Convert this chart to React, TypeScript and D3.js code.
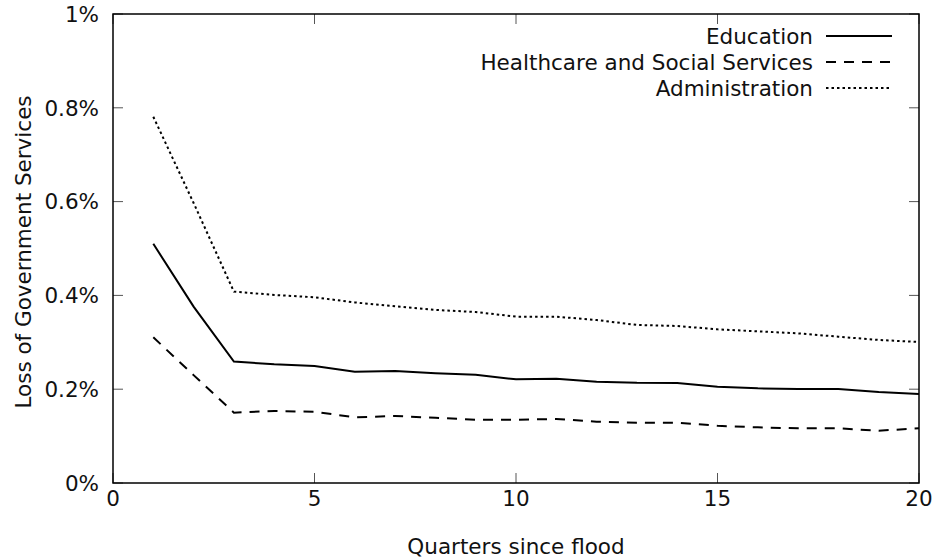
import React from "react";
import * as d3 from "d3";

const quarters = [1, 2, 3, 4, 5, 6, 7, 8, 9, 10, 11, 12, 13, 14, 15, 16, 17, 18, 19, 20];
const education = [0.51, 0.376, 0.259, 0.253, 0.2495, 0.2374, 0.2388, 0.234, 0.231, 0.221, 0.2224, 0.216, 0.2135, 0.213, 0.2053, 0.2018, 0.2004, 0.2004, 0.194, 0.19];
const healthcare = [0.3107, 0.23, 0.15, 0.1535, 0.152, 0.14, 0.1429, 0.139, 0.135, 0.135, 0.1365, 0.1308, 0.1287, 0.1287, 0.122, 0.1187, 0.1165, 0.1165, 0.1115, 0.1166];
const administration = [0.781, 0.597, 0.408, 0.401, 0.396, 0.385, 0.377, 0.369, 0.3646, 0.3547, 0.3547, 0.3475, 0.337, 0.3348, 0.3276, 0.3234, 0.319, 0.312, 0.305, 0.3006];
const seriesNames = ["Education", "Healthcare and Social Services", "Administration"];
const xTicks = [0, 5, 10, 15, 20];
const yTicks = [0, 0.2, 0.4, 0.6, 0.8, 1];
const yTickLabels = ["0%", "0.2%", "0.4%", "0.6%", "0.8%", "1%"];

const W = 937;
const H = 560;
const L = 113;
const R = 919;
const T = 14;
const B = 483;
const FONT = "'DejaVu Sans', sans-serif";
const FS = 21.5;

export default function App() {
  const x = d3.scaleLinear().domain([0, 20]).range([L, R]);
  const y = d3.scaleLinear().domain([0, 1]).range([B, T]);
  const line = d3
    .line<number>()
    .x((_, i) => x(quarters[i]))
    .y((d) => y(d));

  const series = [
    { name: seriesNames[0], values: education, dash: undefined as string | undefined },
    { name: seriesNames[1], values: healthcare, dash: "10,8" },
    { name: seriesNames[2], values: administration, dash: "2.5,3" },
  ];
  const legendY = [36, 62, 88];
  const tickLen = 10;

  return (
    <svg
      width={W}
      height={H}
      style={{ position: "absolute", left: 0, top: 0, background: "#fff" }}
      fontFamily={FONT}
      fontSize={FS}
    >
      <rect x={0} y={0} width={W} height={H} fill="#fff" />
      {xTicks.map((t) => (
        <g key={"xt" + t}>
          <line x1={x(t)} x2={x(t)} y1={B} y2={B - tickLen} stroke="#555" strokeWidth={1} />
          <line x1={x(t)} x2={x(t)} y1={T} y2={T + tickLen} stroke="#555" strokeWidth={1} />
          <text x={x(t)} y={506} textAnchor="middle" fill="#111">
            {t}
          </text>
        </g>
      ))}
      {yTicks.map((t, i) => (
        <g key={"yt" + t}>
          <line x1={L} x2={L + tickLen} y1={y(t)} y2={y(t)} stroke="#555" strokeWidth={1} />
          <line x1={R} x2={R - tickLen} y1={y(t)} y2={y(t)} stroke="#555" strokeWidth={1} />
          <text x={99} y={y(t)} dy="0.36em" textAnchor="end" fill="#111">
            {yTickLabels[i]}
          </text>
        </g>
      ))}
      {series.map((s) => (
        <path
          key={s.name}
          d={line(s.values) || ""}
          fill="none"
          stroke="#000"
          strokeWidth={2}
          strokeDasharray={s.dash}
        />
      ))}
      <rect x={L} y={T} width={R - L} height={B - T} fill="none" stroke="#000" strokeWidth={1.5} />
      {series.map((s, i) => (
        <g key={"lg" + s.name}>
          <text x={813} y={legendY[i]} dy="0.36em" textAnchor="end" fill="#111">
            {s.name}
          </text>
          <line
            x1={826}
            x2={892}
            y1={legendY[i]}
            y2={legendY[i]}
            stroke="#000"
            strokeWidth={2}
            strokeDasharray={s.dash}
          />
        </g>
      ))}
      <text x={(L + R) / 2} y={554} textAnchor="middle" fill="#111">
        Quarters since flood
      </text>
      <text
        transform={`translate(31, 252) rotate(-90)`}
        textAnchor="middle"
        fill="#111"
      >
        Loss of Government Services
      </text>
    </svg>
  );
}
